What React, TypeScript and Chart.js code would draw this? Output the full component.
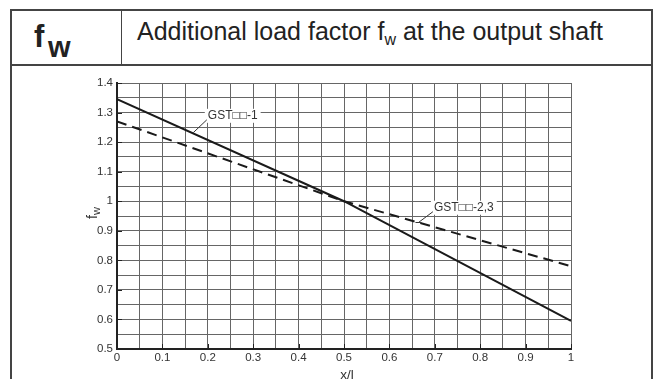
import React, { useEffect, useRef } from "react";
import { Chart, registerables } from "chart.js";
Chart.register(...registerables);

// ---- data ----
const xPoints = [0, 0.5, 1];
const gst1Values = [1.345, 1.0, 0.595];
const gst23Values = [1.27, 1.0, 0.78];
const seriesNames = ["GST\u25A1\u25A1-1", "GST\u25A1\u25A1-2,3"];
const xRange = [0, 1];
const yRange = [0.5, 1.4];
const gridStep = 0.05;
const labelStep = 0.1;
// annotation anchors in data units: [textX, textY, leaderEndX, leaderEndY]
const gst1Label = [0.2, 1.289, 0.168, 1.232];
const gst23Label = [0.698, 0.978, 0.664, 0.928];

const FONT = '"Liberation Sans", Arial, Helvetica, sans-serif';

const isMajor = (v: number) => Math.round(v * 100) % Math.round(labelStep * 100) === 0;
const fmt = (v: number) => {
  const n = Math.round(v * 100);
  return n % 10 === 0 ? String(n / 100) : "";
};

const decorPlugin = {
  id: "decor",
  beforeDatasetsDraw(chart: any) {
    const { ctx, chartArea, scales } = chart;
    const xs = scales.x, ys = scales.y;
    ctx.save();
    ctx.strokeStyle = "#222";
    ctx.lineWidth = 1;
    xs.ticks.forEach((t: any) => {
      if (!isMajor(t.value)) return;
      const px = Math.round(xs.getPixelForValue(t.value)) + 0.5;
      ctx.beginPath();
      ctx.moveTo(px, chartArea.bottom);
      ctx.lineTo(px, chartArea.bottom - 5);
      ctx.stroke();
    });
    ys.ticks.forEach((t: any) => {
      if (!isMajor(t.value)) return;
      const py = Math.round(ys.getPixelForValue(t.value)) + 0.5;
      ctx.beginPath();
      ctx.moveTo(chartArea.left, py);
      ctx.lineTo(chartArea.left + 5, py);
      ctx.stroke();
    });
    ctx.restore();
  },
  afterDraw(chart: any) {
    const { ctx, chartArea, scales } = chart;
    const xs = scales.x, ys = scales.y;
    ctx.save();
    const drawLabel = (text: string, a: number[], tick: boolean) => {
      const tx = xs.getPixelForValue(a[0]);
      const ty = ys.getPixelForValue(a[1]);
      const ex = xs.getPixelForValue(a[2]);
      const ey = ys.getPixelForValue(a[3]);
      ctx.font = `12px ${FONT}`;
      const w = ctx.measureText(text).width;
      ctx.fillStyle = "#fff";
      ctx.fillRect(tx - 3, ty - 7, w + 6, 14);
      ctx.fillStyle = "#333";
      ctx.textBaseline = "middle";
      ctx.textAlign = "left";
      ctx.fillText(text, tx, ty);
      ctx.strokeStyle = "#333";
      ctx.lineWidth = 1;
      ctx.beginPath();
      ctx.moveTo(tx - 1, ty + 4);
      ctx.lineTo(ex, ey);
      ctx.stroke();
      if (tick) {
        ctx.beginPath();
        ctx.moveTo(ex - 3, ey);
        ctx.lineTo(ex + 3, ey);
        ctx.stroke();
      }
    };
    drawLabel(seriesNames[0], gst1Label, false);
    drawLabel(seriesNames[1], gst23Label, true);

    ctx.fillStyle = "#333";
    ctx.textAlign = "center";
    ctx.textBaseline = "alphabetic";
    ctx.font = `13.5px ${FONT}`;
    ctx.fillText("x/l", (chartArea.left + chartArea.right) / 2 + 3, chart.height);

    ctx.translate(chartArea.left - 20, (chartArea.top + chartArea.bottom) / 2 - 3);
    ctx.rotate(-Math.PI / 2);
    ctx.textAlign = "left";
    ctx.font = `14px ${FONT}`;
    const fw = ctx.measureText("f").width;
    ctx.font = `11px ${FONT}`;
    const ww = ctx.measureText("w").width;
    const start = -(fw + ww) / 2;
    ctx.font = `14px ${FONT}`;
    ctx.fillText("f", start, 0);
    ctx.font = `11px ${FONT}`;
    ctx.fillText("w", start + fw, 3);
    ctx.restore();
  },
};

function FwChart() {
  const ref = useRef<HTMLCanvasElement>(null);
  useEffect(() => {
    if (!ref.current) return;
    const chart = new Chart(ref.current, {
      type: "line",
      data: {
        datasets: [
          {
            label: seriesNames[0],
            data: xPoints.map((x, i) => ({ x, y: gst1Values[i] })),
            borderColor: "#1a1a1a",
            borderWidth: 2,
            pointRadius: 0,
            tension: 0,
          },
          {
            label: seriesNames[1],
            data: xPoints.map((x, i) => ({ x, y: gst23Values[i] })),
            borderColor: "#1a1a1a",
            borderWidth: 2,
            borderDash: [10, 6],
            pointRadius: 0,
            tension: 0,
          },
        ],
      },
      options: {
        animation: false,
        responsive: false,
        devicePixelRatio: 1,
        layout: { padding: { top: 17, right: 80, left: 0, bottom: 0 } },
        plugins: { legend: { display: false }, tooltip: { enabled: false } },
        scales: {
          x: {
            type: "linear",
            min: xRange[0],
            max: xRange[1],
            afterFit: (s: any) => { s.height = 30; },
            ticks: {
              stepSize: gridStep,
              maxTicksLimit: 100,
              autoSkip: false,
              maxRotation: 0,
              padding: 2,
              color: "#333",
              font: { family: FONT, size: 11.5 },
              callback: (v: any) => fmt(Number(v)),
            },
            grid: { color: "#666", lineWidth: 1, drawTicks: false },
            border: { color: "#222", width: 2 },
          },
          y: {
            type: "linear",
            min: yRange[0],
            max: yRange[1],
            afterFit: (s: any) => { s.width = 105; },
            ticks: {
              stepSize: gridStep,
              maxTicksLimit: 100,
              autoSkip: false,
              padding: 4,
              color: "#333",
              font: { family: FONT, size: 11.5 },
              callback: (v: any) => fmt(Number(v)),
            },
            grid: { color: "#666", lineWidth: 1, drawTicks: false },
            border: { color: "#222", width: 2 },
          },
        },
      },
      plugins: [decorPlugin],
    } as any);
    return () => chart.destroy();
  }, []);
  return (
    <canvas
      ref={ref}
      width={639}
      height={313}
      style={{ position: "absolute", left: 12, top: 66, width: 639, height: 313 }}
    />
  );
}

const line = (l: number, t: number, w: number, h: number) => (
  <div style={{ position: "absolute", left: l, top: t, width: w, height: h, background: "#444" }} />
);

export default function App() {
  return (
    <div
      style={{
        position: "fixed",
        left: 0,
        top: 0,
        width: 661,
        height: 379,
        overflow: "hidden",
        background: "#fff",
        fontFamily: FONT,
        color: "#222",
      }}
    >
      {line(10, 9, 643, 2)}
      {line(10, 9, 2, 380)}
      {line(651, 9, 2, 380)}
      {line(10, 64, 643, 2)}
      {line(121, 9, 1, 56)}
      <div style={{ position: "absolute", left: 34, top: 21, fontSize: 31, lineHeight: "31px", fontWeight: "bold", whiteSpace: "nowrap" }}>f</div>
      <div style={{ position: "absolute", left: 48, top: 33, fontSize: 29, lineHeight: "29px", fontWeight: "bold", whiteSpace: "nowrap" }}>w</div>
      <div style={{ position: "absolute", left: 137, top: 19, fontSize: 25, lineHeight: "25px", whiteSpace: "nowrap", color: "#222" }}>
        Additional load factor f<span style={{ fontSize: 16, position: "relative", top: 5 }}>w</span> at the output shaft
      </div>
      <FwChart />
    </div>
  );
}
